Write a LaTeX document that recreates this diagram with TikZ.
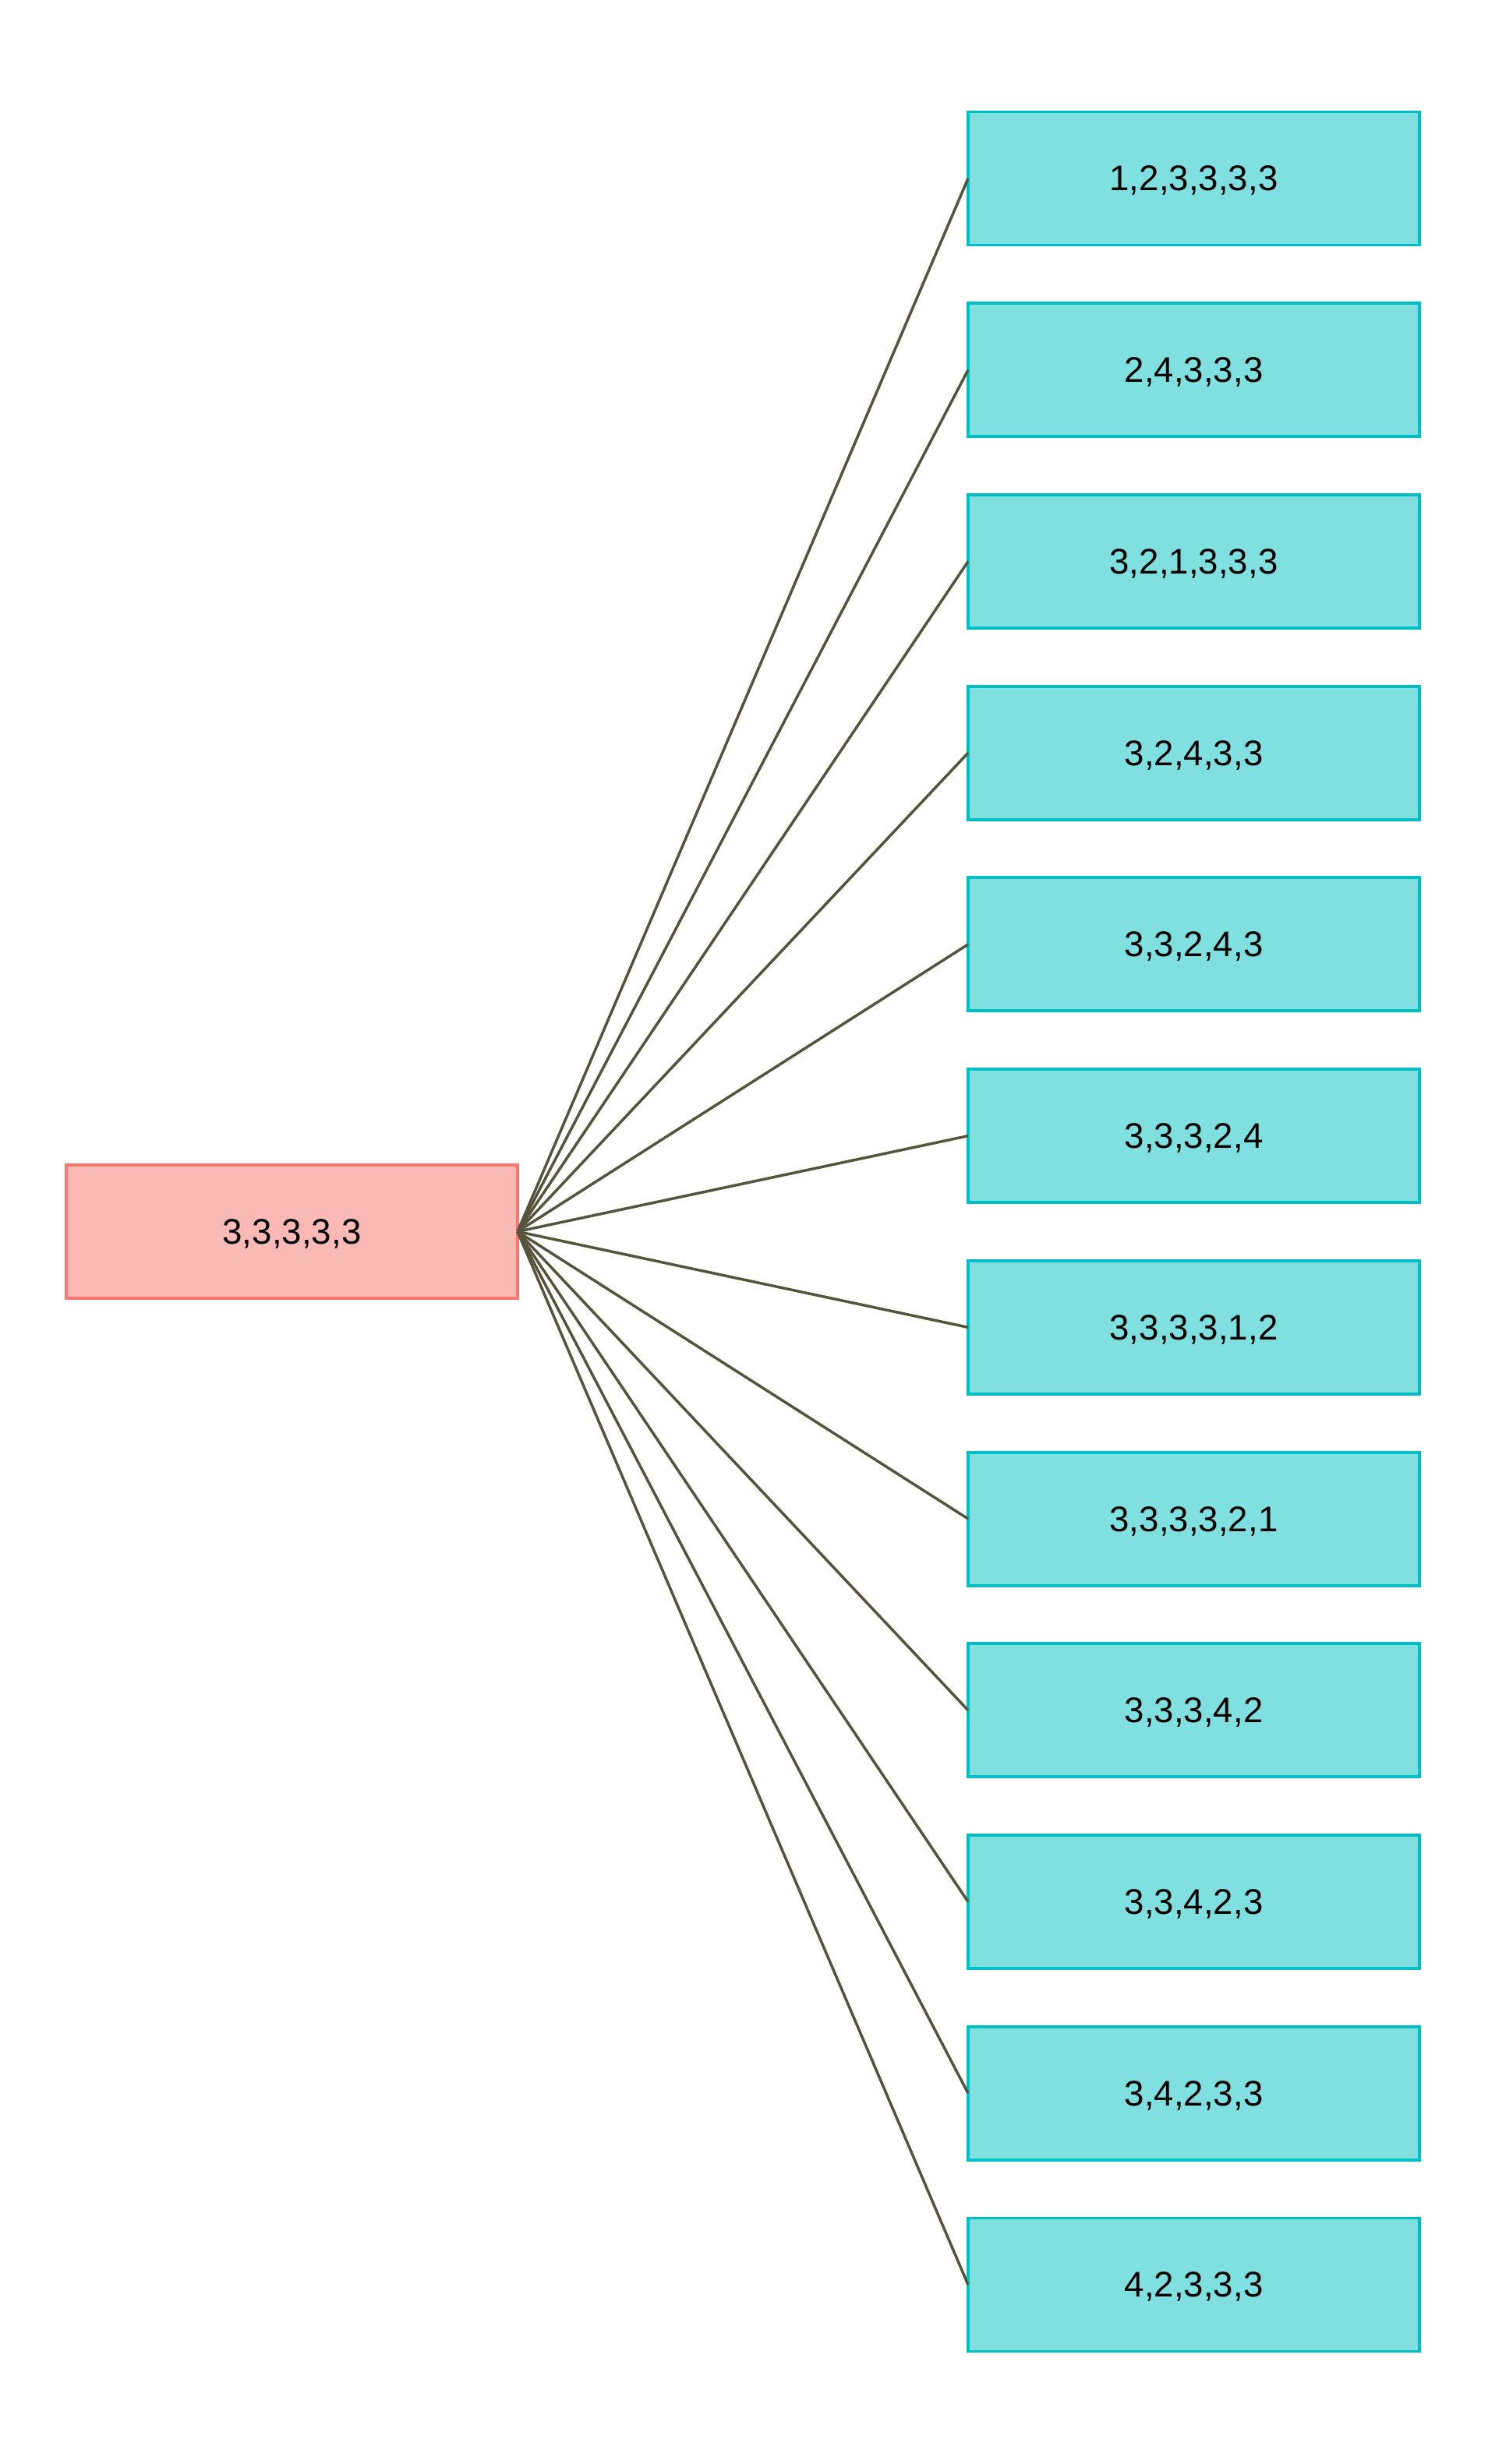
\documentclass[tikz,border=0pt]{standalone}
\usepackage{fontspec}
\setmainfont{Liberation Sans}
\usepackage{xcolor}
\definecolor{rootline}{HTML}{F8766D}
\definecolor{rootfill}{HTML}{FBB9B6}
\definecolor{kidline}{HTML}{00BFC4}
\definecolor{kidfill}{HTML}{80E0E0}
\definecolor{edgecol}{HTML}{55553D}
\usetikzlibrary{positioning}
\tikzset{
  nbox/.style ={rectangle, minimum width=5.79cm, minimum height=1.71cm,
                inner sep=0pt, outer sep=0pt, line width=1.1pt, text depth=0pt,
                font=\fontsize{13}{15}\selectfont},
  rootbox/.style={nbox, draw=rootline, fill=rootfill},
  kidbox/.style ={nbox, draw=kidline, fill=kidfill},
  edge/.style   ={draw=edgecol, line width=1pt},
}

\begin{document}
\begin{tikzpicture}
  \useasboundingbox (0,0) rectangle (19.08,31.62);
  \node[rootbox] (root) at (3.745,15.815) {3,3,3,3,3};
  % children, top to bottom
  \foreach \lbl [count=\i from 0] in {{1,2,3,3,3,3}, {2,4,3,3,3}, {3,2,1,3,3,3}, {3,2,4,3,3},
      {3,3,2,4,3}, {3,3,3,2,4}, {3,3,3,3,1,2}, {3,3,3,3,2,1}, {3,3,3,4,2}, {3,3,4,2,3},
      {3,4,2,3,3}, {4,2,3,3,3}}{
    \node[kidbox] (kid\i) at (15.315,{29.33-2.4573*\i}) {\lbl};
    \draw[edge] (root.east) -- (kid\i.west);
  }
\end{tikzpicture}
\end{document}
